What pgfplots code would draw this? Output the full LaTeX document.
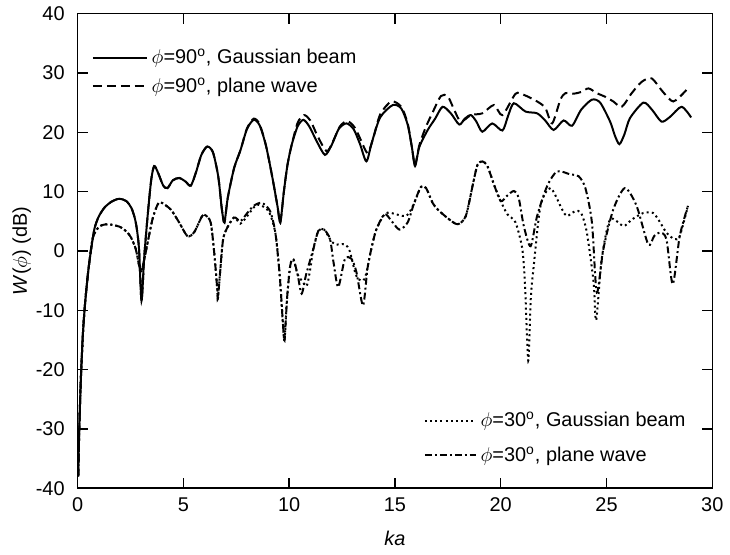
\documentclass[border=0pt]{standalone}
\usepackage{fontspec}
\setmainfont{Liberation Sans}
\usepackage{pgfplots}
\pgfplotsset{compat=1.18}
\usetikzlibrary{calc}

\begin{document}
\begin{tikzpicture}[font=\fontsize{10}{12}\selectfont]
\begin{axis}[
  name=main,
  scale only axis, width=319pt, height=238.5pt,
  xmin=0, xmax=30, ymin=-40, ymax=40,
  xtick={0,5,...,30}, ytick={-40,-30,...,40},
  tick align=inside, major tick length=5pt,
  axis line style={line width=0.75pt},
  every tick/.style={line width=0.75pt, black},
  /pgf/number format/assume math mode=true,
  xticklabel style={yshift=-1.4pt},
  yticklabel style={xshift=-3pt},
  xlabel={\textit{ka}}, ylabel={\textit{W}($\phi$) (dB)},
  xlabel style={at={(axis description cs:0.5,-0.105)}, anchor=center},
  ylabel style={at={(axis description cs:-0.088,0.5)}, anchor=center},
  legend style={draw=none, fill=none, at={(axis description cs:0.022,0.935)},
    anchor=north west, row sep=1.5pt, inner sep=0pt},
  legend cell align=left,
  legend image code/.code={\draw[#1] (0pt,0pt) -- (27pt,0pt);},
  every axis plot/.append style={line width=1pt, black, smooth, tension=0.45},
]
% phi = 90, Gaussian beam
\addplot[solid, no marks] coordinates {
  (0.03,-38) (0.08,-30) (0.15,-22) (0.25,-14) (0.35,-9) (0.5,-3.5)
  (0.64,0.3) (0.8,3.8) (1.0,5.8) (1.27,7.3) (1.6,8.3) (1.97,8.8)
  (2.3,8.4) (2.55,7.2) (2.75,4.8) (2.9,0.5) (3.02,-8.4) (3.15,-1)
  (3.31,5.9) (3.48,12) (3.62,14.3) (3.8,13.2) (4.05,11) (4.25,10.6)
  (4.5,11.9) (4.8,12.3) (5.1,11.7) (5.35,11.0) (5.6,13.3) (5.85,16.2)
  (6.13,17.6) (6.4,16.6) (6.65,12.5) (6.82,7) (6.94,4.8) (7.1,9)
  (7.4,14) (7.7,17) (8.0,20.5) (8.32,22.1) (8.6,21.2) (8.9,17.8)
  (9.2,12.5) (9.45,7.5) (9.58,4.8) (9.75,10) (9.92,14.5) (10.12,17.9)
  (10.4,21) (10.67,22.1) (10.95,21) (11.3,18.5) (11.69,16.2) (12.0,17.8)
  (12.35,20.6) (12.71,21.5) (13.05,20.5) (13.35,18) (13.65,15.1) (13.9,18.2)
  (14.3,22.5) (14.9,24.6) (15.3,24) (15.6,21.3) (15.8,17.5) (15.95,14.3)
  (16.15,17.5) (16.55,20.4) (16.9,22.3) (17.25,24.3) (17.64,23.2) (18.04,21.3)
  (18.3,22.3) (18.59,22.9) (18.85,21.8) (19.13,20.1) (19.6,21.5) (20.08,20.3)
  (20.35,22.8) (20.62,24.9) (21.17,23.5) (21.72,23.2) (22.1,22) (22.5,20.4)
  (22.97,22.0) (23.37,21.1) (23.8,23.8) (24.31,25.5) (24.7,25.0) (25.17,21.8)
  (25.4,19.4) (25.61,18.0) (25.85,19.7) (26.11,22.4) (26.74,25.0) (27.15,23.8)
  (27.6,21.8) (28.0,22.6) (28.55,24.3) (29.0,22.5)
};
\addlegendentry{$\phi$=90\textsuperscript{o}, Gaussian beam}
% phi = 90, plane wave
\addplot[dash pattern=on 4.5pt off 2.5pt] coordinates {
  (0.03,-38) (0.08,-30) (0.15,-22) (0.25,-14) (0.35,-9) (0.5,-3.5)
  (0.64,0.3) (0.8,3.8) (1.0,5.8) (1.27,7.3) (1.6,8.3) (1.97,8.8)
  (2.3,8.4) (2.55,7.2) (2.75,4.8) (2.9,0.5) (3.02,-8.4) (3.15,-1)
  (3.31,5.9) (3.48,12) (3.62,14.3) (3.8,13.2) (4.05,11) (4.25,10.6)
  (4.5,11.9) (4.8,12.3) (5.1,11.7) (5.35,11.0) (5.6,13.3) (5.85,16.2)
  (6.13,17.6) (6.4,16.6) (6.65,12.5) (6.82,7) (6.94,4.8) (7.1,9)
  (7.4,14) (7.7,17) (8.0,20.6) (8.32,22.3) (8.6,21.4) (8.9,17.8)
  (9.2,12.5) (9.45,7.5) (9.58,4.8) (9.75,10) (9.92,14.5) (10.12,17.9)
  (10.4,21.6) (10.7,22.9) (11.0,22.0) (11.35,19.3) (11.77,16.8) (12.05,18.3)
  (12.4,21.0) (12.75,21.9) (13.1,20.8) (13.4,18.6) (13.7,16.5) (13.95,18.7)
  (14.3,23) (14.83,25.2) (15.3,24.3) (15.6,21.5) (15.8,17.5) (15.95,14.5)
  (16.15,17.8) (16.45,20.8) (16.8,23.5) (17.17,26.1) (17.49,26.1) (17.8,23.8)
  (18.11,21.8) (18.59,22.9) (19.13,23.2) (19.68,24.6) (20.08,22.9) (20.7,26.5)
  (21.1,26.3) (21.72,25.2) (22.11,24.1) (22.43,21.5) (22.82,25.5) (23.06,26.6)
  (23.44,26.5) (23.8,26.8) (24.15,27.4) (24.54,26.6) (24.93,26.0) (25.32,25.2)
  (25.72,24.3) (26.19,26.6) (26.66,28.5) (27.13,29.1) (27.67,26.8) (28.15,25.2)
  (28.69,26.8) (28.9,27.8)
};
\addlegendentry{$\phi$=90\textsuperscript{o}, plane wave}
% phi = 30, Gaussian beam
\addplot[forget plot, dash pattern=on 1pt off 1.6pt] coordinates {
  (0.03,-38) (0.08,-30) (0.15,-22) (0.25,-14) (0.35,-9) (0.5,-3.5)
  (0.72,2.2) (1.03,4.1) (1.43,4.5) (1.97,4.1) (2.3,3.3) (2.52,2.3)
  (2.75,0.3) (2.91,-2.5) (3.02,-3.4) (3.15,-1.5) (3.31,1.4) (3.55,5.5)
  (3.78,7.8) (3.93,8.2) (4.4,7.0) (4.8,4.8) (5.19,2.5) (5.5,3.1)
  (5.89,5.9) (6.05,6.0) (6.29,4.8) (6.45,0) (6.6,-6.4) (6.63,-8.1)
  (6.75,-3) (6.91,2.5) (7.38,5.6) (7.69,4.6) (8.0,5.8) (8.32,7.3)
  (8.56,7.8) (9.03,6.7) (9.35,3) (9.55,-4) (9.7,-12) (9.78,-15.1)
  (9.9,-8) (10.05,-2.5) (10.2,-1.4) (10.4,-4) (10.6,-5) (10.83,-5.9)
  (11.0,-3) (11.14,0.3) (11.38,3.4) (11.65,3.6) (11.93,2.0) (12.16,1.1)
  (12.63,1.1) (12.86,0) (13.1,-3.4) (13.26,-4.7) (13.57,-4.7) (13.88,0.3)
  (14.12,3.6) (14.51,6.2) (14.82,6.4) (15.53,5.9) (15.9,8) (16.23,10.8)
  (16.47,10.6) (16.78,8.1) (17.02,7.0) (17.5,5.5) (17.96,4.5) (18.35,5.9)
  (18.7,11.5) (18.9,14.5) (19.13,15.1) (19.37,14.3) (19.7,11) (20.0,8.4)
  (20.31,6.2) (20.7,4.8) (21.02,0.3) (21.15,-6) (21.3,-18.5) (21.42,-8)
  (21.56,-2.5) (21.88,7.6) (22.35,10.6) (22.9,7.0) (23.13,5.9) (23.52,6.7)
  (23.8,6.4) (24.07,3.1) (24.39,-5.3) (24.51,-11.7) (24.77,-1.4) (25.17,5.3)
  (25.8,4.2) (26.2,5.3) (26.74,6.4) (27.2,6.4) (27.5,5.0) (27.83,3.1)
  (28.2,2.0) (28.46,2.5) (28.85,7.6)
};
% phi = 30, plane wave
\addplot[forget plot, dash pattern=on 3.5pt off 1.5pt on 1pt off 1.5pt] coordinates {
  (0.03,-38) (0.08,-30) (0.15,-22) (0.25,-14) (0.35,-9) (0.5,-3.5)
  (0.72,2.2) (1.03,4.1) (1.43,4.5) (1.97,4.1) (2.3,3.3) (2.52,2.3)
  (2.75,0.3) (2.91,-2.5) (3.02,-3.4) (3.15,-1.5) (3.31,1.4) (3.55,5.5)
  (3.78,7.8) (3.93,8.2) (4.4,7.0) (4.8,4.8) (5.19,2.5) (5.5,3.1)
  (5.89,5.9) (6.05,6.0) (6.29,4.8) (6.45,0) (6.6,-6.4) (6.63,-8.1)
  (6.75,-3) (6.91,2.5) (7.38,5.6) (7.69,5.0) (8.0,6.3) (8.32,7.6)
  (8.71,8.1) (9.1,6.7) (9.35,3) (9.55,-4) (9.7,-12) (9.78,-15.1)
  (9.9,-8) (10.05,-2.5) (10.2,-1.4) (10.4,-4) (10.59,-7.2) (10.8,-4)
  (11.14,0.3) (11.38,3.4) (11.65,3.6) (11.93,2.0) (12.1,-2) (12.32,-6.1)
  (12.63,-1.4) (12.94,-1.3) (13.18,-3.6) (13.49,-9.2) (13.7,-3) (13.88,0.3)
  (14.12,3.6) (14.51,6.2) (14.85,5) (15.21,3.6) (15.6,4.8) (15.9,8)
  (16.23,10.8) (16.47,10.6) (16.78,8.1) (17.02,7.0) (17.5,5.5) (17.96,4.5)
  (18.35,5.9) (18.7,11.5) (18.9,14.5) (19.13,15.1) (19.37,14.3) (19.7,11)
  (20.0,8.4) (20.3,9.3) (20.62,10.1) (20.85,8.9) (21.09,4.2) (21.41,0.8)
  (21.72,5.9) (22.19,10.9) (22.66,13.4) (23.29,12.9) (23.68,12.6) (24.0,10.6)
  (24.31,4.8) (24.54,-7.0) (24.85,0.3) (25.32,7.0) (25.87,10.6) (26.42,7.6)
  (26.97,1.1) (27.25,2.5) (27.52,3.1) (27.83,2.0) (28.13,-5.6) (28.46,2.5)
  (28.85,7.6)
};
\end{axis}
% second legend (phi = 30)
\begin{axis}[
  scale only axis, width=319pt, height=238.5pt,
  xmin=0, xmax=30, ymin=-40, ymax=40, hide axis,
  legend style={draw=none, fill=none, at={(axis description cs:0.545,0.17)},
    anchor=north west, row sep=4.5pt, inner sep=0pt},
  legend cell align=left,
  legend image code/.code={\draw[#1] (0pt,0pt) -- (25.5pt,0pt);},
]
\addlegendimage{black, line width=1pt, dash pattern=on 1pt off 1.6pt}
\addlegendentry{$\phi$=30\textsuperscript{o}, Gaussian beam}
\addlegendimage{black, line width=1pt, dash pattern=on 3.5pt off 1.5pt on 1pt off 1.5pt}
\addlegendentry{$\phi$=30\textsuperscript{o}, plane wave}
\end{axis}
\path ($(main.south west)+(-39pt,-33.5pt)$) rectangle ($(main.north east)+(7pt,6.5pt)$);
\end{tikzpicture}
\end{document}
